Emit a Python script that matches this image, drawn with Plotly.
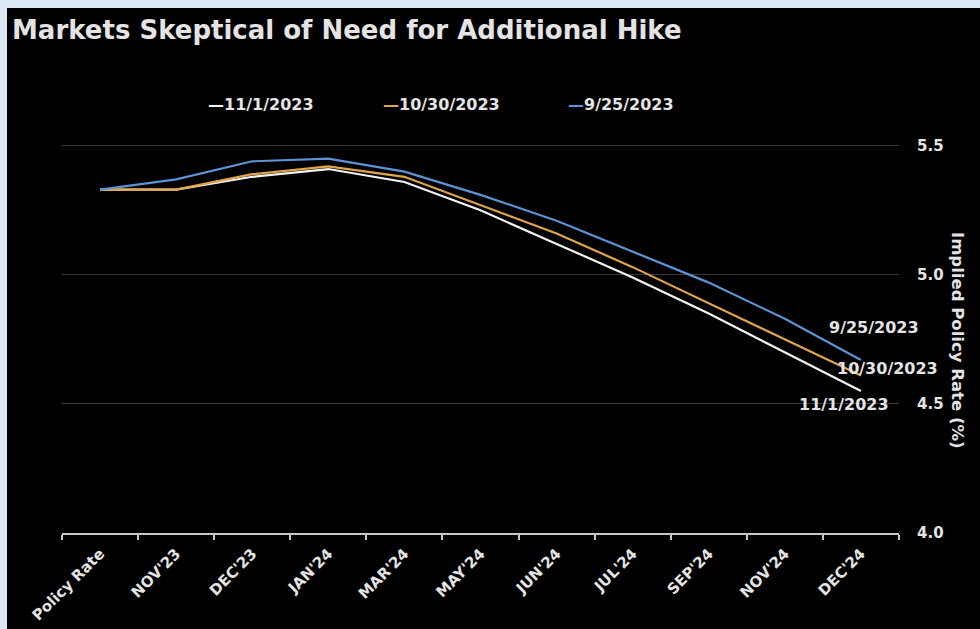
import plotly.graph_objects as go

# ---------------- data ----------------
categories = ["Policy Rate", "NOV'23", "DEC'23", "JAN'24", "MAR'24", "MAY'24",
              "JUN'24", "JUL'24", "SEP'24", "NOV'24", "DEC'24"]
rate_11_1_2023 = [5.33, 5.33, 5.38, 5.41, 5.36, 5.25, 5.12, 4.99, 4.85, 4.70, 4.55]
rate_10_30_2023 = [5.33, 5.33, 5.39, 5.42, 5.38, 5.27, 5.16, 5.03, 4.89, 4.75, 4.61]
rate_9_25_2023 = [5.33, 5.37, 5.44, 5.45, 5.40, 5.31, 5.21, 5.09, 4.97, 4.83, 4.67]
series_names = ["11/1/2023", "10/30/2023", "9/25/2023"]
y_ticks = [4.0, 4.5, 5.0, 5.5]

# ---------------- style ----------------
W, H = 980, 629
ML, MR, MT, MB = 62, 81, 120, 96
PW, PH = W - ML - MR, H - MT - MB
FONT = "DejaVu Sans"
TXT = "#e4e4e4"
BORDER = "#dde8f4"
colors = ["#f2f2f2", "#dfa548", "#5d93d4"]


def px_x(px):
    return (px - ML) / PW


def px_y(py):
    return (H - MB - py) / PH


fig = go.Figure()
all_series = [rate_11_1_2023, rate_10_30_2023, rate_9_25_2023]
for name, vals, col in zip(series_names, all_series, colors):
    fig.add_trace(go.Scatter(x=categories, y=vals, mode="lines", name=name,
                             line=dict(color=col, width=2.2), showlegend=False))

annotations = []
# legend drawn as text with coloured dash
legend_px = [206, 381, 566]
for name, col, lx in zip(series_names, colors, legend_px):
    annotations.append(dict(
        text=f'<span style="color:{col}">—</span>{name}',
        xref="paper", yref="paper", x=px_x(lx), y=px_y(104),
        xanchor="left", yanchor="middle", showarrow=False,
        font=dict(family=FONT, size=16, color=TXT, weight="bold")))

# end-of-line labels
shifts = [(-17, -13), (27, 7), (13, 33)]
for name, vals, (dx, dy) in zip(series_names, all_series, shifts):
    annotations.append(dict(
        text=name, xref="x", yref="y", x=categories[-1], y=vals[-1],
        xshift=dx, yshift=dy, showarrow=False,
        xanchor="center", yanchor="middle",
        font=dict(family=FONT, size=16, color=TXT, weight="bold")))

# y-axis title (reads top to bottom)
annotations.append(dict(
    text="Implied Policy Rate (%)", xref="paper", yref="paper",
    x=px_x(958), y=px_y(340), textangle=90, showarrow=False,
    xanchor="center", yanchor="middle",
    font=dict(family=FONT, size=16.5, color=TXT, weight="bold")))

shapes = [
    dict(type="rect", xref="paper", yref="paper", x0=px_x(0), x1=px_x(7),
         y0=px_y(H), y1=px_y(0), fillcolor=BORDER, line=dict(width=0)),
    dict(type="rect", xref="paper", yref="paper", x0=px_x(0), x1=px_x(W),
         y0=px_y(8), y1=px_y(0), fillcolor=BORDER, line=dict(width=0)),
]

fig.update_layout(
    width=W, height=H,
    margin=dict(l=ML, r=MR, t=MT, b=MB, autoexpand=False),
    paper_bgcolor="#000000", plot_bgcolor="#000000",
    title=dict(text="Markets Skeptical of Need for Additional Hike",
               xref="container", yref="container", x=12 / W, y=1 - 30 / H,
               xanchor="left", yanchor="middle",
               font=dict(family=FONT, size=26, color=TXT, weight="bold")),
    xaxis=dict(type="category", categoryorder="array", categoryarray=categories,
               range=[-0.5, len(categories) - 0.5],
               automargin=False,
               tickson="boundaries", ticks="outside", ticklen=5,
               tickcolor="#c8c8c8", tickwidth=1.5,
               showline=True, linecolor="#c8c8c8", linewidth=2,
               showgrid=False, tickangle=-45, ticklabelstandoff=4,
               tickfont=dict(family=FONT, size=15, color=TXT, weight="bold")),
    yaxis=dict(side="right", range=[4.0, 5.6], tickvals=y_ticks,
               automargin=False,
               tickformat=".1f", showgrid=True, gridcolor="#3a3a3a",
               gridwidth=1, zeroline=False, showline=False, ticks="",
               ticklabelstandoff=17,
               tickfont=dict(family=FONT, size=15, color=TXT, weight="bold")),
    annotations=annotations,
    shapes=shapes,
)

fig.write_html(
    "out.html",
    config={"displayModeBar": False},
    post_script="document.body.style.margin='0';document.body.style.padding='0';",
)
